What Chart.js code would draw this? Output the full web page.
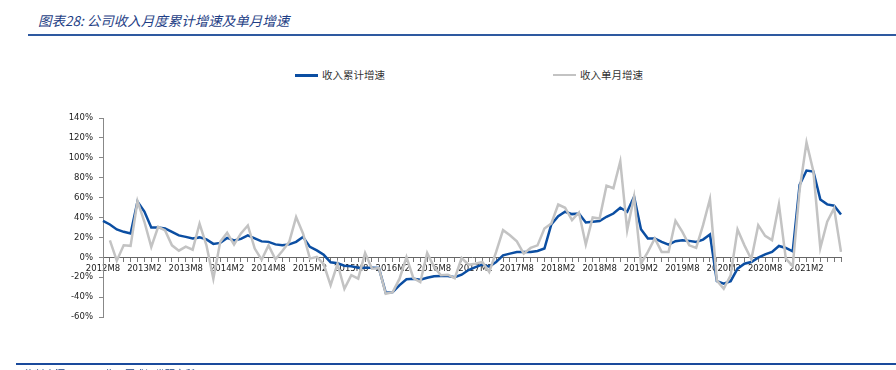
<!DOCTYPE html>
<html>
<head>
<meta charset="utf-8">
<script src="https://cdn.jsdelivr.net/npm/chart.js@4.4.1/dist/chart.umd.min.js"></script>
<style>
  html, body { margin: 0; padding: 0; background: #fff; }
  #wrap { position: relative; width: 896px; height: 370px; overflow: hidden; }
  #title { position: absolute; left: 38px; top: 10px; font: italic 13.5px "Noto Sans CJK SC", sans-serif; color: #1f3f86; white-space: nowrap; }
  #topline { position: absolute; left: 28px; right: 0; top: 34px; height: 2px; background: #2e59a0; }
  #botline { position: absolute; left: 16px; right: 0; top: 363px; height: 2px; background: #1a4a9c; }
  #source { position: absolute; left: 25px; top: 366px; font: 10px "Noto Sans CJK SC", sans-serif; color: #1a3f80; white-space: nowrap; }
  .leg { position: absolute; top: 67px; font: 10.5px "Noto Sans CJK SC", serif; color: #333; white-space: nowrap; }
  .leg i { display: inline-block; width: 23px; height: 3px; vertical-align: middle; margin-right: 4px; position: relative; top: -1px; }
  #chartBox { position: absolute; left: 0; top: 0; width: 896px; height: 370px; }
</style>
</head>
<body>
<div id="wrap">
  <div id="title">图表28: 公司收入月度累计增速及单月增速</div>
  <div id="topline"></div>
  <div class="leg" style="left:295px"><i style="background:#0b4ea2"></i>收入累计增速</div>
  <div class="leg" style="left:553px"><i style="background:#c3c3c3;height:2px"></i>收入单月增速</div>
  <div id="chartBox"><canvas id="revChart"></canvas></div>
  <div id="botline"></div>
  <div id="source">资料来源：公司公告，国盛证券研究所</div>
</div>
<script>
// monthly categories, 2012M8 .. 2021M7
const startYear = 2012, startMonth = 8, monthCount = 108;
const months = [];
for (let k = 0; k < monthCount; k++) {
    const m = startMonth - 1 + k;
    months.push((startYear + Math.floor(m / 12)) + 'M' + (m % 12 + 1));
}

// cumulative revenue growth (%)
const cumGrowth = [
    36.7, 33, 28, 25.6, 24, 56, 46, 30, 30, 29, 25.6, 22,
    20.5, 19, 20, 18, 13.5, 14.5, 19.5, 17, 18.5, 22, 19, 16,
    15.5, 13, 12, 13, 15.5, 20.5, 10.5, 7, 2.5, -5, -6, -8.5,
    -9, -10.4, -10.4, -10.4, -10.8, -35.7, -35, -28, -22, -21.5, -22.5, -20.5,
    -19, -18.8, -18.8, -20, -17.5, -12.8, -9.8, -7.4, -9.4, -4.7, 2, 3.7,
    5.4, 5.4, 5.4, 6.4, 8.8, 33, 41.4, 45.8, 43.4, 44, 35, 35.7,
    36.4, 40.7, 44, 49.8, 45.8, 61, 28.3, 18.9, 18.9, 15.5, 12.8, 16.2,
    17.2, 16.5, 15.5, 17.8, 22.9, -24, -26.6, -24, -11.4, -6.4, -4.7, -0.3,
    3, 5.4, 11.4, 9.4, 6, 72.7, 87.2, 86.2, 58.2, 53.2, 51.9, 43
];

// single-month revenue growth (%)
const monthGrowth = [
    null, 17, -3.4, 12, 11.5, 56.5, 35.7, 10.4, 30.6, 27, 12, 6.7,
    10.8, 7.7, 33.7, 12, -21.5, 15.5, 24.6, 12.8, 24, 32, 8.8, -2.4,
    12, -2, 6.4, 15.5, 40.4, 24, -1.3, 0.5, -7, -28, -6.5, -31.6,
    -18, -21.5, 4.4, -11.4, -10.8, -36.7, -35, -21.5, 0.3, -21, -25, 4.4,
    -9.8, -18, -17.5, -21, -0.7, -7.4, -6.4, -4.7, -14.8, 5.4, 27.3, 22.2,
    16, 3.7, 9.4, 12, 29, 34, 53, 49.8, 37.4, 45, 12.8, 40,
    39, 72, 69.4, 96.3, 27.3, 61, -6.4, 5.4, 18.9, 5.4, 5.4, 36.7,
    25.6, 12, 9.4, 32.3, 58.6, -23.2, -31.6, -18, 28, 12, -2, 32.3,
    21.5, 17.2, 53.2, -1.3, -8.8, 67.7, 115.5, 86.2, 9.4, 35.7, 49.2, 5.4
];

const yMin = -60, yMax = 140, yStep = 20;

const tickFont = { family: 'DejaVu Sans', size: 8.5 };

new Chart(document.getElementById('revChart').getContext('2d'), {
    type: 'line',
    data: {
        labels: months,
        datasets: [
            { label: '收入累计增速', data: cumGrowth, borderColor: '#0b4ea2', borderWidth: 2.5, pointRadius: 0, tension: 0, order: 1 },
            { label: '收入单月增速', data: monthGrowth, borderColor: '#c3c3c3', borderWidth: 2.5, pointRadius: 0, tension: 0, order: 0 }
        ]
    },
    options: {
        responsive: true,
        maintainAspectRatio: false,
        animation: false,
        layout: { padding: { left: 40, right: 55, top: 118, bottom: 53 } },
        plugins: { legend: { display: false }, tooltip: { enabled: false } },
        scales: {
            x: {
                position: { y: 0 },
                offset: false,
                grid: { drawOnChartArea: false, drawTicks: true, tickLength: 4, color: '#777' },
                border: { color: '#666', width: 1 },
                ticks: {
                    autoSkip: false, maxRotation: 0, minRotation: 0, padding: 2,
                    color: '#222', font: tickFont,
                    callback: (v, i) => (i % 6 === 0 ? months[i] : '')
                }
            },
            y: {
                min: yMin, max: yMax,
                afterFit: s => { s.width = 63; },
                grid: { drawOnChartArea: false, tickLength: 4, color: '#888' },
                border: { color: '#888', width: 1 },
                ticks: { stepSize: yStep, padding: 6, color: '#222', font: tickFont, callback: v => v + '%' }
            }
        }
    }
});
</script>
</body>
</html>
